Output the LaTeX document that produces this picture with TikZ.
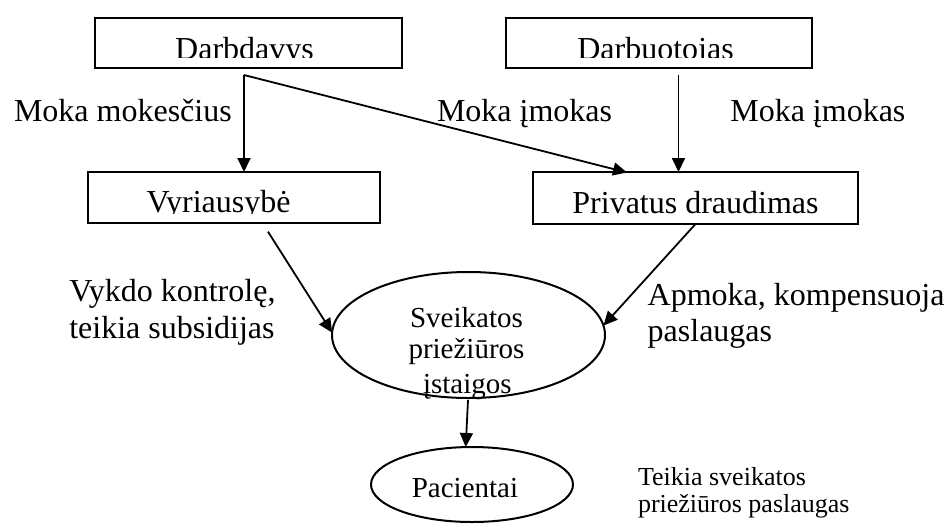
\documentclass[tikz,border=0pt]{standalone}
\usepackage{fontspec}
\setmainfont{Liberation Serif}
\usetikzlibrary{arrows.meta,shapes.geometric}
\begin{document}
\begin{tikzpicture}[x=1pt,y=-1pt,line width=2pt,
  box/.style={draw,rectangle,inner sep=0,outer sep=0},
  oval/.style={draw,ellipse,inner sep=0,outer sep=0},
  big/.style={font=\fontsize{32}{36.8}\selectfont,inner sep=0,anchor=base west},
  bigc/.style={big,anchor=base},
  mid/.style={font=\fontsize{29}{33}\selectfont,inner sep=0,anchor=base},
  small/.style={font=\fontsize{26}{29}\selectfont,inner sep=0,anchor=base west},
  arr/.style={-{Triangle[length=14pt,width=13pt]},line width=1.8pt}]
\useasboundingbox (0,0) rectangle (949,525);
\fill[white] (0,0) rectangle (949,525);

% boxes
\node[box,minimum width=307pt,minimum height=50pt] (dd) at (248.5,43) {};
\node[box,minimum width=306pt,minimum height=50pt] (db) at (659,43) {};
\node[box,minimum width=292pt,minimum height=51pt] (vy) at (234,197.5) {};
\node[box,minimum width=325pt,minimum height=52pt] (pd) at (695.5,198) {};

% box captions, cut off along their lower edge
\begin{scope}
  \clip (96,19) rectangle (401,57.4);
  \node[bigc] (ddt) at (244.5,59) {Darbdavys};
\end{scope}
\begin{scope}
  \clip (507,19) rectangle (811,57.4);
  \node[bigc] (dbt) at (655.5,59) {Darbuotojas};
\end{scope}
\begin{scope}
  \clip (89,172) rectangle (379,213.6);
  \node[bigc] (vyt) at (218.5,212.8) {Vyriausybė};
\end{scope}
\node[bigc] (pdt) at (695.5,213.3) {Privatus draudimas};

% ovals
\node[oval,minimum width=273pt,minimum height=126pt] (sv) at (468.5,335) {};
\node[mid] (sv1) at (466.5,327) {Sveikatos};
\node[mid] (sv2) at (466.5,358.5) {priežiūros};
\node[mid] (sv3) at (467.3,393) {įstaigos};
\node[oval,minimum width=202pt,minimum height=75pt] (pa) at (472,484.5) {};
\node[mid] (pat) at (465,497.3) {Pacientai};

% connector end points
\coordinate (ddout) at (244,75);
\coordinate (dbout) at (678.5,75);
\coordinate (pdin) at (627,172.5);
\coordinate (vyout) at (268,231.7);
\coordinate (svout) at (468,400);

% connectors
\draw[arr] (ddout) -- (ddout |- vy.north);
\draw[arr] (ddout) -- (pdin);
\draw[arr] (dbout) -- (dbout |- pd.north);
\draw[arr] (vyout) -- (sv.179);
\draw[arr] (pd.south) -- (sv.4);
\draw[arr] (svout) -- (pa.north -| 465.7,0);

% flow labels
\node[big] (l1) at (13,121) {Moka mokesčius};
\node[big] (l2) at (436,121.7) {Moka įmokas};
\node[big] (l3) at (729.3,121) {Moka įmokas};
\node[big] (l4a) at (68.3,301.7) {Vykdo kontrolę,};
\node[big] (l4b) at (68.3,338) {teikia subsidijas};
\node[big] (l5a) at (646.7,305) {Apmoka, kompensuoja};
\node[big] (l5b) at (646.7,341.7) {paslaugas};
\node[small] (l6a) at (637,485) {Teikia sveikatos};
\node[small] (l6b) at (637,512.7) {priežiūros paslaugas};
\end{tikzpicture}
\end{document}
